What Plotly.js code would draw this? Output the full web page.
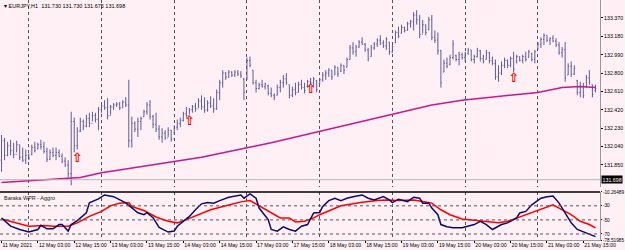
<!DOCTYPE html>
<html>
<head>
<meta charset="utf-8">
<script src="https://cdn.plot.ly/plotly-3.0.1.min.js"></script>
<style>html,body{margin:0;padding:0;background:#FFF0F5;}#chart{width:625px;height:250px;}</style>
</head>
<body>
<div id="chart"></div>
<script>
// ---- Data (EURJPY H1) ----
const timeLabels = ["11 May 2021","12 May 03:00","12 May 15:00","13 May 03:00","13 May 15:00","14 May 03:00","14 May 15:00","17 May 03:00","17 May 15:00","18 May 03:00","18 May 15:00","19 May 03:00","19 May 15:00","20 May 03:00","20 May 15:00","21 May 03:00","21 May 15:00"];
const labelBars = [0,12,24,36,48,60,72,84,96,108,120,132,144,156,168,180,192];
const gridBars = [9,33,57,81,105,129,153,177];

const openP = [
131.90,132.10,131.95,132.05,132.00,131.96,132.06,131.93,131.90,131.95,
131.96,132.03,132.02,132.06,132.04,131.99,131.91,131.98,131.95,131.98,
131.94,131.89,131.85,131.76,132.30,132.05,132.20,132.30,132.25,132.33,
132.28,132.36,132.32,132.42,132.46,132.44,132.36,132.45,132.47,132.48,
132.44,132.50,132.47,132.10,132.28,132.22,132.30,132.35,132.40,132.47,
132.35,132.27,132.22,132.14,132.18,132.13,132.21,132.12,132.24,132.28,
132.31,132.38,132.36,132.42,132.45,132.43,132.51,132.45,132.42,132.49,
132.46,132.43,132.60,132.70,132.80,132.76,132.81,132.78,132.81,132.79,
132.74,132.75,132.93,132.83,132.70,132.64,132.68,132.66,132.67,132.59,
132.57,132.57,132.65,132.70,132.74,132.68,132.57,132.63,132.60,132.68,
132.65,132.66,132.71,132.70,132.72,132.69,132.73,132.78,132.80,132.83,
132.78,132.86,132.82,132.88,132.86,132.94,133.06,133.02,133.07,133.12,
133.10,133.04,132.97,133.06,133.10,133.14,133.11,133.08,133.12,133.02,
133.11,133.22,133.21,133.27,133.24,133.31,133.33,133.40,133.35,133.20,
133.30,133.25,133.35,133.17,133.14,133.03,132.81,132.90,132.89,132.96,
132.98,132.94,132.99,132.96,133.00,133.04,132.94,132.97,133.03,132.95,
132.94,133.01,132.93,132.90,132.76,132.80,132.88,132.93,132.88,132.95,
132.91,132.97,132.93,132.97,132.96,133.00,132.94,133.04,133.10,133.15,
133.19,133.14,133.16,133.13,133.09,133.01,133.04,132.78,132.87,132.79,
132.72,132.60,132.66,132.66,132.75,132.68,132.62];
const highP = [
132.16,132.13,132.09,132.11,132.08,132.10,132.06,132.03,132.01,131.97,
132.06,132.09,132.08,132.11,132.09,132.03,132.01,132.03,132.03,132.01,
131.97,131.93,131.90,132.40,132.34,132.24,132.34,132.32,132.37,132.39,
132.40,132.39,132.45,132.49,132.52,132.54,132.47,132.49,132.50,132.50,
132.52,132.55,132.73,132.35,132.30,132.34,132.35,132.42,132.50,132.52,
132.37,132.39,132.26,132.23,132.21,132.24,132.21,132.26,132.32,132.34,
132.40,132.45,132.44,132.47,132.49,132.54,132.57,132.55,132.52,132.56,
132.54,132.63,132.73,132.83,132.81,132.83,132.82,132.83,132.83,132.82,
132.75,132.96,132.97,132.83,132.73,132.70,132.73,132.70,132.68,132.65,
132.59,132.68,132.73,132.78,132.80,132.68,132.66,132.70,132.71,132.73,
132.70,132.73,132.75,132.76,132.73,132.75,132.81,132.83,132.85,132.83,
132.88,132.86,132.90,132.88,132.96,133.09,133.12,133.09,133.14,133.17,
133.11,133.06,133.09,133.12,133.16,133.19,133.14,133.17,133.12,133.09,
133.24,133.28,133.30,133.28,133.33,133.35,133.43,133.45,133.40,133.35,
133.30,133.38,133.40,133.24,133.22,133.04,132.94,132.96,132.99,133.14,
132.99,133.02,133.01,133.02,133.06,133.04,132.99,133.06,133.04,132.99,
133.04,133.02,132.97,132.94,132.88,132.92,132.96,132.94,132.97,133.02,
132.99,132.97,132.99,133.02,133.04,133.01,133.04,133.12,133.17,133.21,
133.19,133.17,133.19,133.16,133.12,133.07,133.12,132.90,132.92,132.88,
132.73,132.71,132.70,132.78,132.83,132.68,132.68];
const lowP = [
131.78,131.90,131.94,131.95,131.92,131.98,131.90,131.88,131.86,131.90,
131.95,131.98,132.01,132.01,131.97,131.88,131.90,131.93,131.90,131.93,
131.87,131.83,131.72,131.64,131.98,132.01,132.19,132.21,132.24,132.24,
132.30,132.29,132.21,132.39,132.42,132.32,132.37,132.42,132.45,132.42,
132.44,132.45,132.03,132.03,132.19,132.14,132.21,132.35,132.37,132.32,
132.23,132.19,132.11,132.08,132.11,132.14,132.09,132.16,132.21,132.24,
132.30,132.34,132.37,132.39,132.40,132.44,132.42,132.39,132.40,132.44,
132.39,132.42,132.52,132.65,132.73,132.75,132.76,132.76,132.77,132.75,
132.52,132.73,132.86,132.68,132.60,132.63,132.65,132.63,132.57,132.55,
132.52,132.57,132.60,132.65,132.68,132.54,132.55,132.57,132.60,132.63,
132.59,132.65,132.68,132.65,132.60,132.68,132.71,132.73,132.76,132.73,
132.78,132.76,132.81,132.79,132.86,132.94,132.99,132.97,133.06,133.09,
133.02,132.92,132.97,133.04,133.07,133.09,133.06,133.04,132.99,133.01,
133.11,133.16,133.21,133.22,133.24,133.27,133.24,133.30,133.16,133.21,
133.19,133.24,133.14,133.11,132.99,132.65,132.81,132.85,132.88,132.94,
132.92,132.88,132.94,132.92,132.99,132.92,132.90,132.96,132.92,132.90,
132.94,132.90,132.88,132.73,132.71,132.78,132.85,132.85,132.86,132.81,
132.90,132.92,132.90,132.92,132.96,132.92,132.90,133.04,133.06,133.09,
133.12,133.09,133.12,133.07,132.99,132.96,132.71,132.78,132.76,132.78,
132.57,132.55,132.54,132.65,132.68,132.55,132.60];
const closeP = [
132.10,131.95,132.05,132.00,131.96,132.06,131.93,131.90,131.95,131.92,
132.03,132.00,132.06,132.04,131.99,131.91,131.98,131.95,131.98,131.94,
131.89,131.85,131.76,132.30,132.05,132.20,132.30,132.25,132.33,132.28,
132.36,132.32,132.42,132.46,132.44,132.36,132.45,132.47,132.48,132.44,
132.50,132.47,132.10,132.28,132.22,132.30,132.33,132.40,132.47,132.35,
132.27,132.22,132.14,132.18,132.13,132.21,132.12,132.24,132.28,132.31,
132.38,132.36,132.42,132.45,132.43,132.51,132.45,132.42,132.49,132.46,
132.43,132.60,132.70,132.80,132.76,132.81,132.78,132.81,132.79,132.77,
132.60,132.93,132.88,132.70,132.64,132.68,132.66,132.69,132.59,132.57,
132.55,132.65,132.70,132.74,132.70,132.57,132.63,132.60,132.68,132.65,
132.62,132.71,132.70,132.74,132.63,132.73,132.78,132.80,132.83,132.76,
132.86,132.79,132.88,132.83,132.94,133.06,133.02,133.07,133.12,133.10,
133.04,132.95,133.06,133.10,133.14,133.11,133.08,133.15,133.02,133.07,
133.22,133.18,133.27,133.24,133.31,133.33,133.40,133.35,133.20,133.30,
133.22,133.35,133.17,133.14,133.03,132.70,132.90,132.87,132.96,133.10,
132.94,132.99,132.96,133.00,133.04,132.94,132.97,133.03,132.95,132.92,
133.01,132.93,132.90,132.76,132.80,132.88,132.93,132.88,132.95,132.84,
132.97,132.93,132.97,132.94,133.02,132.94,133.02,133.10,133.15,133.19,
133.14,133.16,133.13,133.09,133.01,133.04,132.75,132.87,132.79,132.85,
132.60,132.66,132.57,132.75,132.70,132.58,132.64];

// Moving average (magenta)
const maBars = [0,26,33,49,66,89,109,125,142,152,165,177,185,191,196];
const maVals = [131.67,131.72,131.77,131.85,131.93,132.08,132.23,132.35,132.47,132.52,132.56,132.60,132.65,132.66,132.65];

// Buy arrows
const arrowBars = [25,62,102,169];
const arrowVals = [131.91,132.30,132.63,132.74];

// Baraka WPR - Aggro (fast, navy)
const wprBars = [0,3,6,9,12,13,15,17,19,20,22,23,25,28,29,32,34,36,37,41,43,45,47,48,50,52,55,57,58,60,62,64,66,68,70,72,75,79,80,82,84,85,88,89,91,93,95,97,99,101,103,105,106,108,110,112,114,116,119,121,123,126,128,129,131,134,136,138,139,141,142,144,145,147,149,152,154,156,158,160,162,165,167,170,171,173,175,178,180,182,184,186,188,190,192,194,196];
const wprVals = [-47.2,-58.9,-63.6,-67.3,-63.6,-57.6,-62.6,-62.6,-56.6,-56.6,-65.9,-56.6,-51.0,-39.8,-25.8,-20.2,-14.6,-16.0,-17.0,-25.8,-32.8,-39.8,-42.6,-39.8,-46.8,-60.8,-67.3,-65.9,-59.0,-52.0,-45.0,-35.6,-27.2,-25.4,-26.2,-22.6,-17.8,-14.6,-19.2,-13.2,-19.2,-33.2,-49.6,-63.6,-65.9,-59.8,-63.6,-65.9,-59.0,-56.6,-40.2,-39.4,-31.0,-22.6,-19.2,-22.6,-19.2,-17.0,-14.6,-19.2,-21.6,-17.0,-21.6,-25.4,-20.6,-24.0,-17.8,-19.2,-26.2,-26.2,-33.2,-42.6,-56.6,-59.8,-61.2,-61.2,-59.0,-56.6,-52.0,-56.6,-63.6,-56.6,-54.2,-47.2,-40.2,-38.0,-28.6,-19.2,-17.0,-16.0,-26.2,-40.2,-54.2,-63.6,-67.3,-70.6,-73.8];
// signal (red)
const sigBars = [0,5,9,14,17,22,25,29,33,36,39,42,43,47,51,55,58,61,65,69,74,79,82,85,89,92,95,97,100,103,105,109,112,116,119,124,127,131,136,139,142,145,148,152,156,160,164,167,170,173,177,180,182,184,188,191,194,196];
const sigVals = [-48.6,-54.2,-59.0,-58.0,-59.0,-59.0,-54.2,-45.0,-38.0,-30.0,-26.2,-25.4,-31.0,-36.6,-45.8,-52.0,-54.2,-49.6,-42.6,-35.6,-30.0,-24.4,-22.6,-30.0,-40.2,-47.2,-47.2,-52.8,-52.0,-47.2,-42.6,-35.6,-30.0,-27.2,-24.8,-22.6,-21.6,-22.3,-21.6,-24.0,-26.2,-35.6,-42.6,-48.6,-50.6,-52.0,-54.2,-52.0,-47.2,-42.6,-35.6,-31.0,-28.6,-33.2,-42.6,-52.0,-56.6,-61.2];

const priceTicks = [131.850,132.040,132.230,132.420,132.610,132.800,132.990,133.180,133.370];
const priceTickText = ["131.850","132.040","132.230","132.420","132.610","132.800","132.990","133.180","133.370"];
const wprTicks = [-10.26489,-30,-50,-70,-78.51985];
const wprTickText = ["-10.26489","-30","-50","-70","-78.51985"];
const wprLevels = [-30,-50,-70];
const bidPrice = 131.698;
const headerText = "▾ EURJPY,H1  131.730 131.730 131.675 131.698";
const indicatorName = "Baraka WPR - Aggro";

// ---- Plot ----
const barIdx = openP.map((_, i) => i);
const FONT = 'Liberation Sans, Arial, sans-serif';
const BAR_COL = '#5A5C9E';

const traces = [
  {type:'ohlc', x:barIdx, open:openP, high:highP, low:lowP, close:closeP, xaxis:'x', yaxis:'y',
   increasing:{line:{color:BAR_COL, width:1}}, decreasing:{line:{color:BAR_COL, width:1}},
   tickwidth:0.3, hoverinfo:'skip'},
  {type:'scatter', mode:'lines', x:maBars, y:maVals, xaxis:'x', yaxis:'y',
   line:{color:'#C8188C', width:1.5}, hoverinfo:'skip'},
  {type:'scatter', mode:'text', x:arrowBars, y:arrowVals, xaxis:'x', yaxis:'y',
   text:arrowBars.map(()=> '<b>⇧</b>'), textposition:'middle center',
   textfont:{color:'#FF0000', size:13, family:'DejaVu Sans'}, hoverinfo:'skip'},
  {type:'scatter', mode:'lines', x:sigBars, y:sigVals, xaxis:'x', yaxis:'y2',
   line:{color:'#FF0000', width:1.5}, hoverinfo:'skip'},
  {type:'scatter', mode:'lines', x:wprBars, y:wprVals, xaxis:'x', yaxis:'y2',
   line:{color:'#0B0B6B', width:1.5}, hoverinfo:'skip'}
];

const sepY = 0.2004;
const shapes = [
  {type:'line', xref:'paper', yref:'y', x0:0, x1:1, y0:bidPrice, y1:bidPrice, line:{color:'#B8B8B8', width:1}},
  {type:'line', xref:'paper', yref:'paper', x0:0, x1:1, y0:sepY, y1:sepY, line:{color:'#000', width:1.5}}
];
wprLevels.forEach(v => shapes.push({type:'line', xref:'paper', yref:'y2', x0:0, x1:1, y0:v, y1:v,
  line:{color:'#555', width:1, dash:'dot'}}));

const layout = {
  width:625, height:250,
  margin:{l:0, r:25, t:0, b:10},
  paper_bgcolor:'#FFF0F5', plot_bgcolor:'#FFF0F5',
  showlegend:false, hovermode:false, dragmode:false,
  font:{family:FONT, size:5.3, color:'#000'},
  xaxis:{range:[-0.5,197.5], anchor:'y2', rangeslider:{visible:false},
    tickmode:'array', tickvals:labelBars, ticktext:timeLabels, tickangle:0,
    ticklabelposition:'outside right', ticklabeloverflow:'allow',
    ticks:'outside', ticklen:2, tickcolor:'#000', tickfont:{size:5.2},
    showgrid:false, showline:true, linecolor:'#999', zeroline:false,
    minor:{tickmode:'array', tickvals:gridBars, showgrid:true, gridcolor:'#555', griddash:'dot', gridwidth:1, ticks:''}},
  yaxis:{domain:[0.221,1], range:[131.623,133.555], side:'right',
    tickmode:'array', tickvals:priceTicks, ticktext:priceTickText,
    ticks:'outside', ticklen:2, tickcolor:'#000', showgrid:false, zeroline:false,
    showline:true, linecolor:'#999'},
  yaxis2:{domain:[0,sepY], range:[-78.51985,-10.26489], side:'right',
    tickmode:'array', tickvals:wprTicks, ticktext:wprTickText,
    ticks:'outside', ticklen:1, tickcolor:'#000', tickfont:{size:4.7}, showgrid:false, zeroline:false,
    showline:true, linecolor:'#999'},
  shapes:shapes,
  annotations:[
    {xref:'paper', yref:'paper', x:0, y:1, xanchor:'left', yanchor:'top', xshift:2, yshift:-1,
     text:headerText, showarrow:false, font:{size:5.5, color:'#000'}},
    {xref:'paper', yref:'paper', x:0, y:sepY, xanchor:'left', yanchor:'top', xshift:2, yshift:-1,
     text:indicatorName, showarrow:false, font:{size:5.5, color:'#222'}},
    {xref:'paper', yref:'y', x:1, y:bidPrice, xanchor:'left', yanchor:'middle', xshift:1,
     text:bidPrice.toFixed(3), showarrow:false, bgcolor:'#000', borderpad:0.5,
     font:{size:5.3, color:'#fff'}}
  ]
};

Plotly.newPlot('chart', traces, layout, {staticPlot:true, displayModeBar:false});
</script>
</body>
</html>
